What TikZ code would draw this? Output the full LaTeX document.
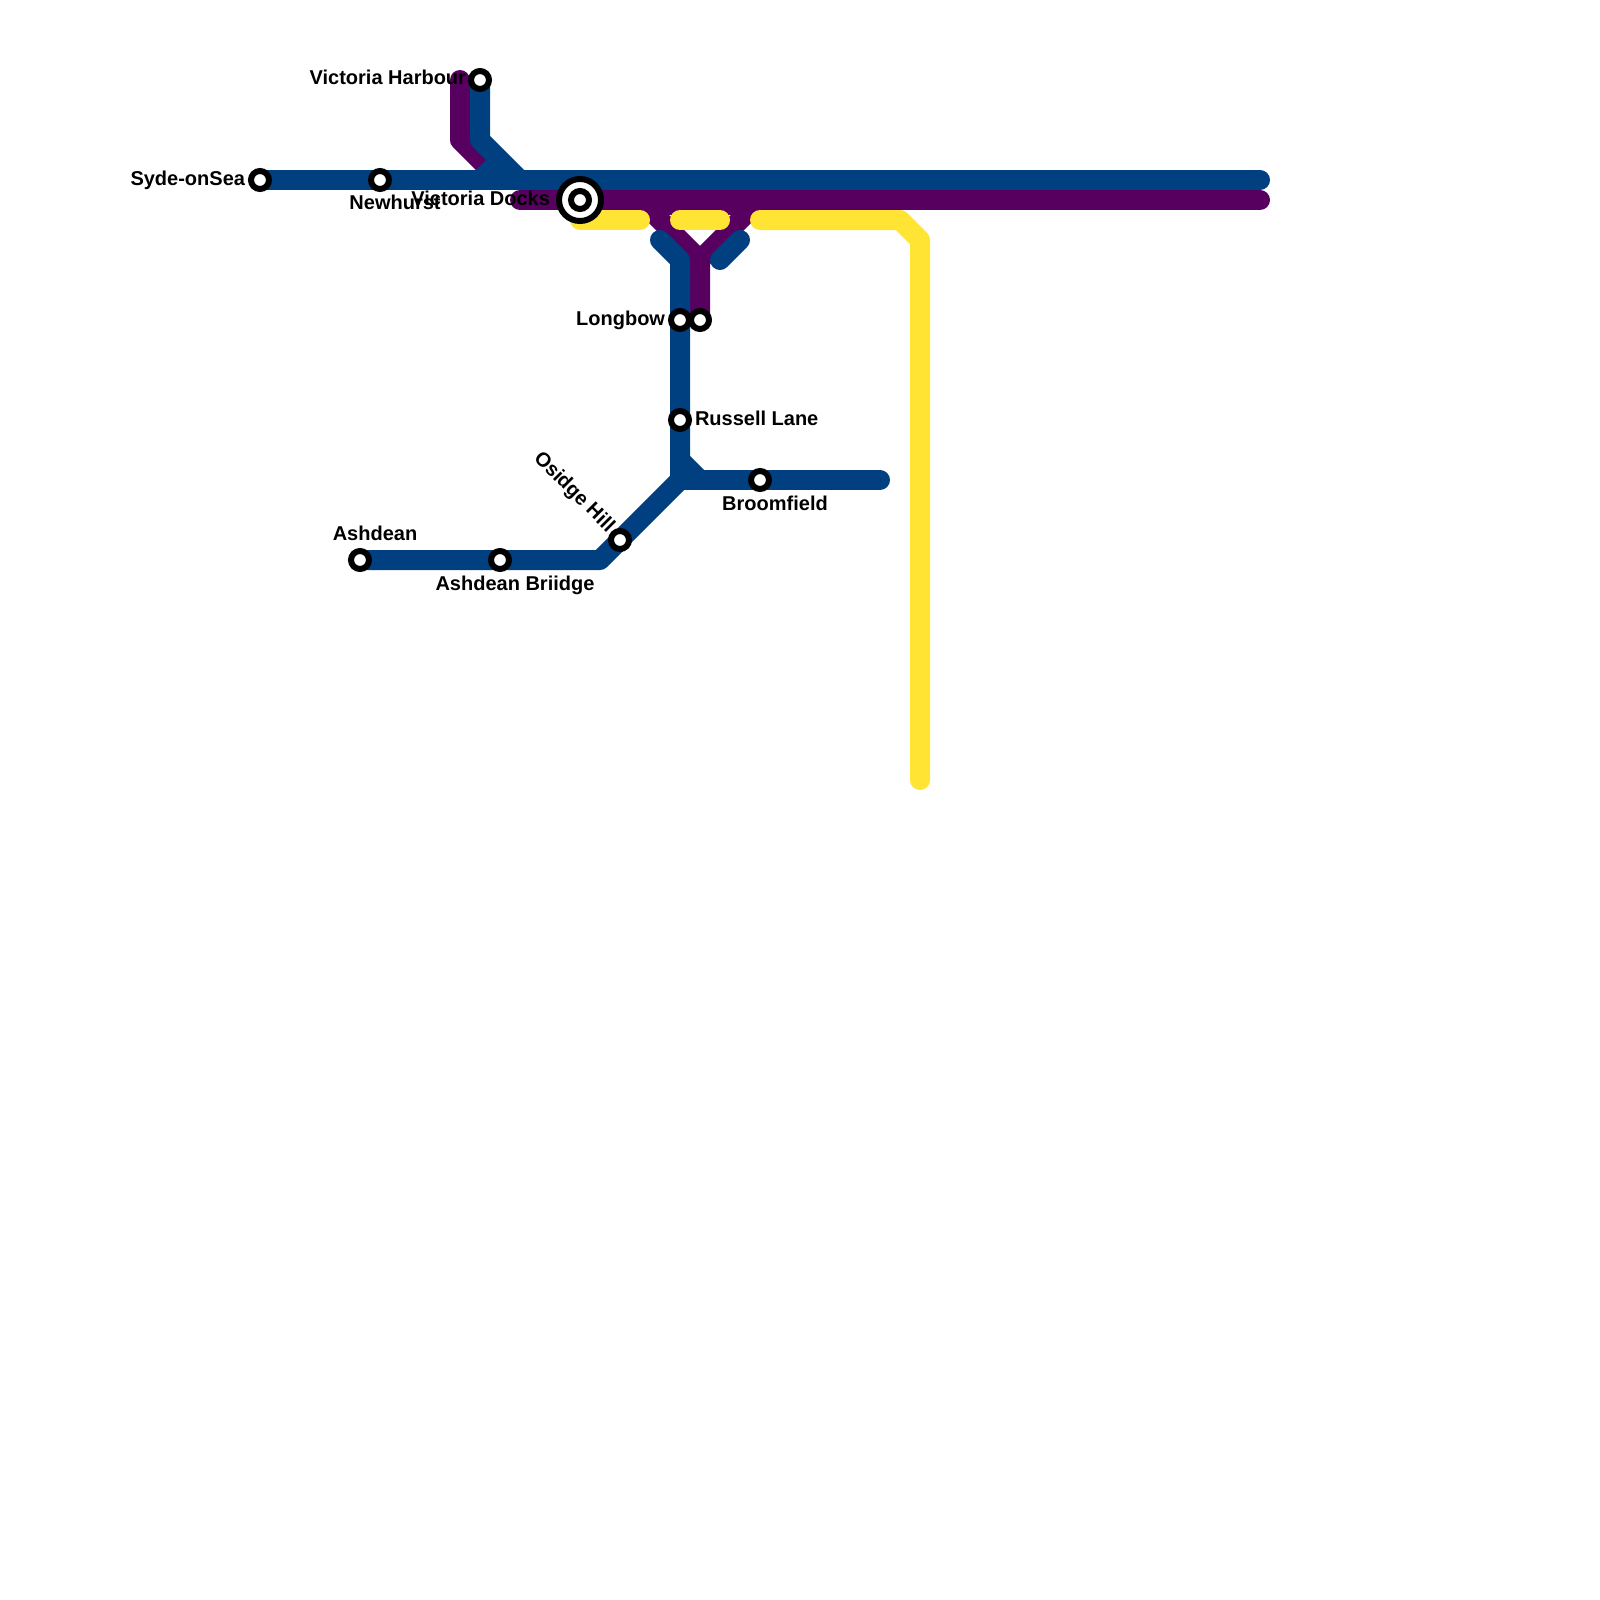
\documentclass[tikz,border=0pt]{standalone}
\usepackage{fontspec}
\setmainfont{Liberation Sans}
\definecolor{lblue}{HTML}{004080}
\definecolor{lpurple}{HTML}{580060}
\definecolor{lyellow}{HTML}{FFE433}
\tikzset{
  metro/.style={line width=20pt,line cap=round,line join=round},
  stn/.style={circle,draw=black,fill=white,line width=6pt,minimum size=18pt,inner sep=0pt,outer sep=0pt},
  hub/.style={circle,draw=black,fill=white,line width=6pt,minimum size=42pt,inner sep=0pt,outer sep=0pt},
  lbl/.style={font=\fontsize{20pt}{22pt}\selectfont\bfseries,text=black,inner sep=0pt,outer sep=0pt}
}
\begin{document}
\begin{tikzpicture}[x=1pt,y=-1pt]
\useasboundingbox[fill=white] (0,0) rectangle (1600,1600);
% waypoints
\coordinate (syde) at (260,180);
\coordinate (newh) at (380,180);
\coordinate (harb) at (480,80);
\coordinate (docks) at (580,200);
\coordinate (longb) at (680,320);
\coordinate (longp) at (700,320);
\coordinate (russ) at (680,420);
\coordinate (broom) at (760,480);
\coordinate (osid) at (620,540);
\coordinate (ash) at (360,560);
\coordinate (ashb) at (500,560);
\coordinate (bA) at (480,140);
\coordinate (bB) at (520,180);
\coordinate (bC) at (1260,180);
\coordinate (bD) at (660,240);
\coordinate (bE) at (680,260);
\coordinate (bF) at (680,480);
\coordinate (bG) at (680,460);
\coordinate (bH) at (700,480);
\coordinate (bI) at (880,480);
\coordinate (bJ) at (600,560);
\coordinate (bK) at (720,260);
\coordinate (bL) at (740,240);
\coordinate (bM) at (480,180);
\coordinate (bN) at (500,160);
\coordinate (pA) at (460,80);
\coordinate (pB) at (460,140);
\coordinate (pC) at (490,170);
\coordinate (pD) at (520,200);
\coordinate (pE) at (1260,200);
\coordinate (pF) at (640,200);
\coordinate (pH) at (700,260);
\coordinate (pI) at (760,200);
\coordinate (pK) at (640,205);
\coordinate (pL) at (760,205);
\coordinate (yA) at (580,220);
\coordinate (yB) at (640,220);
\coordinate (yC) at (680,220);
\coordinate (yD) at (720,220);
\coordinate (yE) at (760,220);
\coordinate (yF) at (900,220);
\coordinate (yG) at (920,240);
\coordinate (yH) at (920,780);
% purple
\draw[metro,lpurple] (pA)--(pB)--(pC);
\draw[metro,lpurple] (pD)--(pE);
\draw[metro,lpurple] (pF)--(pH)--(longp);
\draw[metro,lpurple] (pI)--(pH);
\draw[metro,lpurple,line cap=butt] (pK)--(pL);
% yellow
\draw[metro,lyellow] (yA)--(yB);
\draw[metro,lyellow] (yC)--(yD);
\draw[metro,lyellow] (yE)--(yF)--(yG)--(yH);
% blue
\draw[metro,lblue] (syde)--(bC);
\draw[metro,lblue] (harb)--(bA)--(bB);
\draw[metro,lblue,line cap=butt] (bM)--(bN);
\draw[metro,lblue] (bD)--(bE)--(bF);
\draw[metro,lblue] (bG)--(bH);
\draw[metro,lblue] (bF)--(bI);
\draw[metro,lblue] (ash)--(bJ)--(bF);
\draw[metro,lblue] (bK)--(bL);
% labels
\node[lbl,anchor=base east] (tsyde) at (245,185) {Syde-onSea};
\node[lbl,anchor=base] (tnewh) at (395,209) {Newhurst};
\node[lbl,anchor=base east] (tharb) at (466,85) {Victoria Harbour};
\node[lbl,anchor=base east] (tdocks) at (550,205) {Victoria Docks};
\node[lbl,anchor=base east] (tlong) at (665,325) {Longbow};
\node[lbl,anchor=base west] (truss) at (695,425) {Russell Lane};
\node[lbl,anchor=base] (tbroom) at (775,510) {Broomfield};
\node[lbl,anchor=base east,rotate=-45] (tosid) at (607,533) {Osidge Hill};
\node[lbl,anchor=base] (tash) at (375,540) {Ashdean};
\node[lbl,anchor=base] (tashb) at (515,590) {Ashdean Briidge};
% stations
\node[stn] (s1) at (syde) {};
\node[stn] (s2) at (newh) {};
\node[stn] (s3) at (harb) {};
\node[hub] (s4a) at (docks) {};
\node[stn] (s4b) at (docks) {};
\node[stn] (s5) at (longb) {};
\node[stn] (s6) at (longp) {};
\node[stn] (s7) at (russ) {};
\node[stn] (s8) at (broom) {};
\node[stn] (s9) at (osid) {};
\node[stn] (s10) at (ash) {};
\node[stn] (s11) at (ashb) {};
\end{tikzpicture}
\end{document}
